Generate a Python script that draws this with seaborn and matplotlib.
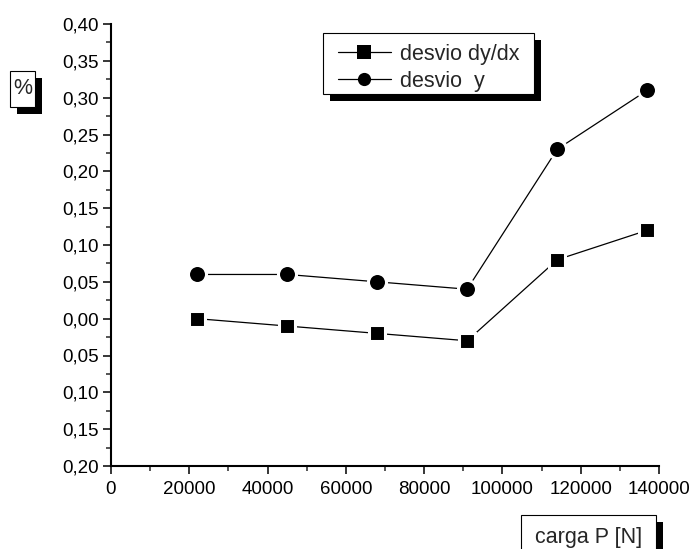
import matplotlib
matplotlib.use("Agg")
import matplotlib.pyplot as plt
import seaborn as sns
import pandas as pd
from matplotlib.patches import Rectangle

# ---- data ----
carga = [22000, 45000, 68000, 91000, 114000, 137000]
desvio_dydx = [0.00, -0.01, -0.02, -0.03, 0.08, 0.12]
desvio_y = [0.06, 0.06, 0.05, 0.04, 0.23, 0.31]
ytick_vals = [-0.20, -0.15, -0.10, -0.05, 0.00, 0.05, 0.10, 0.15, 0.20, 0.25, 0.30, 0.35, 0.40]
ytick_labels = ["0,20", "0,15", "0,10", "0,05", "0,00", "0,05", "0,10", "0,15",
                "0,20", "0,25", "0,30", "0,35", "0,40"]
xtick_vals = [0, 20000, 40000, 60000, 80000, 100000, 120000, 140000]
xtick_labels = ["0", "20000", "40000", "60000", "80000", "100000", "120000", "140000"]
label_dydx = "desvio dy/dx"
label_y = "desvio  y"
xlabel = "carga P [N]"
ylabel = "%"

df = pd.DataFrame({"carga": carga, "dydx": desvio_dydx, "y": desvio_y})

sns.set_style("ticks")
plt.rcParams["font.family"] = ["Liberation Sans", "DejaVu Sans"]

W, H = 691, 549
fig = plt.figure(figsize=(W / 100, H / 100), dpi=100)
ax = fig.add_axes([111 / W, 1 - 466 / H, (659 - 111) / W, (466 - 24) / H])

sns.lineplot(data=df, x="carga", y="dydx", ax=ax, color="black", linewidth=0.9,
             marker="s", markersize=11.6, markerfacecolor="black",
             markeredgecolor="white", markeredgewidth=2.2, label=label_dydx)
sns.lineplot(data=df, x="carga", y="y", ax=ax, color="black", linewidth=0.9,
             marker="o", markersize=13.0, markerfacecolor="black",
             markeredgecolor="white", markeredgewidth=2.2, label=label_y)

ax.set_xlim(0, 140000)
ax.set_ylim(-0.20, 0.40)
ax.set_xticks(xtick_vals)
ax.set_xticklabels(xtick_labels)
ax.set_yticks(ytick_vals)
ax.set_yticklabels(ytick_labels)
ax.set_xticks([v + 10000 for v in xtick_vals[:-1]], minor=True)
ax.set_yticks([v + 0.025 for v in ytick_vals[:-1]], minor=True)
ax.tick_params(axis="both", which="major", direction="out", length=6, width=1.1,
               labelsize=13.5, colors="black")
ax.tick_params(axis="y", which="major", pad=3)
ax.tick_params(axis="x", which="major", pad=5)
ax.tick_params(axis="both", which="minor", direction="out", length=3.5, width=1.1)
for s in ["top", "right"]:
    ax.spines[s].set_visible(False)
for s in ["left", "bottom"]:
    ax.spines[s].set_linewidth(1.5)
    ax.spines[s].set_color("black")
ax.set_xlabel("")
ax.set_ylabel("")

handles, labels = ax.get_legend_handles_labels()
if ax.get_legend() is not None:
    ax.get_legend().remove()


def boxed(x0, y0, x1, y1, text=None):
    fig.patches.append(Rectangle(((x0 + 7) / W, 1 - (y1 + 7) / H), (x1 - x0) / W,
                                 (y1 - y0) / H, transform=fig.transFigure,
                                 facecolor="black", edgecolor="none", zorder=1))
    fig.patches.append(Rectangle((x0 / W, 1 - y1 / H), (x1 - x0) / W, (y1 - y0) / H,
                                 transform=fig.transFigure, facecolor="white",
                                 edgecolor="black", linewidth=0.8, zorder=2))
    if text is not None:
        fig.text((x0 + x1) / 2 / W, 1 - (y0 + y1) / 2 / H, text, ha="center",
                 va="center", fontsize=15.5, zorder=3)


# legend frame drawn as a figure box, legend content frameless on top
boxed(323, 33, 534, 94)
leg = fig.legend(handles, labels, loc="upper left", bbox_to_anchor=(338 / W, 1 - 44 / H),
                 bbox_transform=fig.transFigure, frameon=False, fontsize=15.5,
                 handlelength=2.45, handletextpad=0.42, labelspacing=0.28,
                 borderpad=0, borderaxespad=0)
leg.set_zorder(5)
for h in leg.legend_handles:
    h.set_markeredgewidth(0)
    h.set_markersize(9.5)

boxed(10, 71, 35, 107, ylabel)
boxed(521, 515, 656, 560, xlabel)

fig.savefig("out.png", dpi=100)
